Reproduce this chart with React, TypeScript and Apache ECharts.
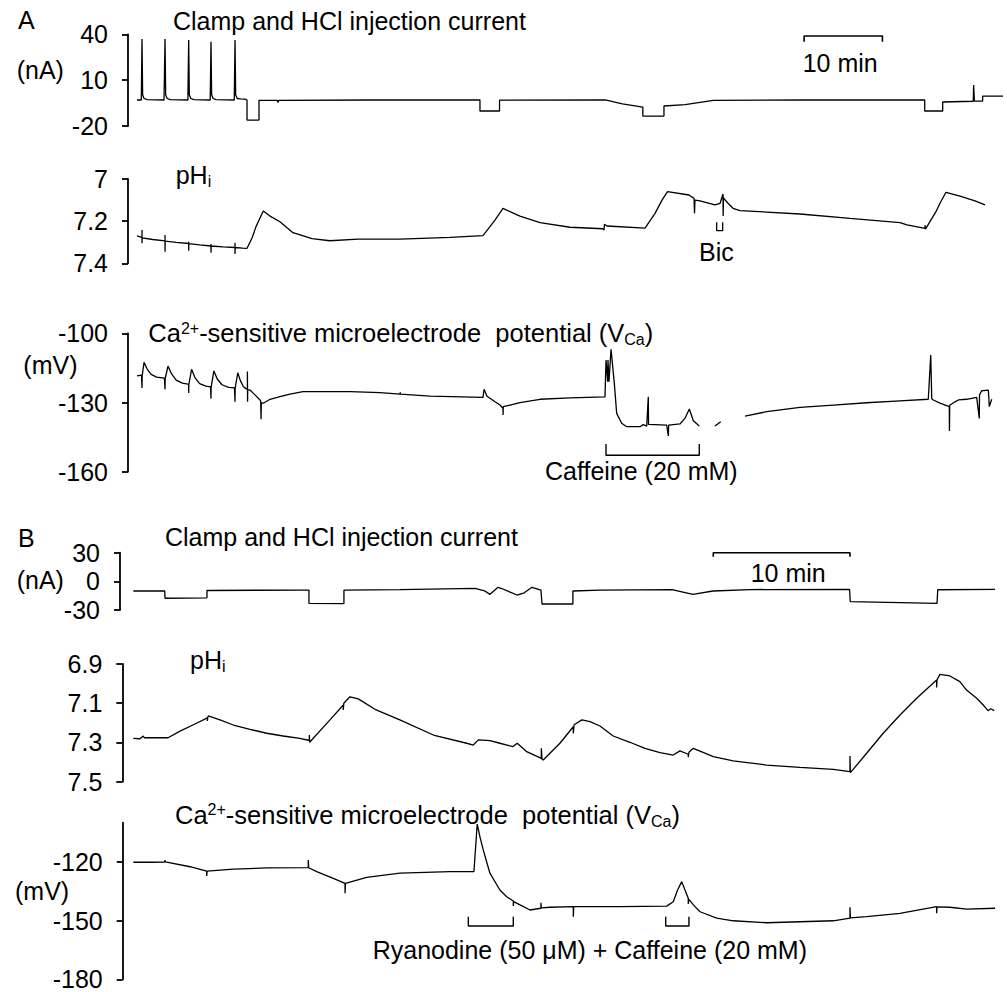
import React, { useEffect, useRef } from "react";
import * as echarts from "echarts";

const FONT = "'Liberation Sans', Arial, Helvetica, sans-serif";

// ---------- Panel A (time in minutes) ----------
const currentA = [
  [0, -3.0], [0.55, -3.0], [0.64, 36.9], [0.72, 0.5], [0.9, -2.0], [1.3, -2.8], [3.45, -3.0],
  [3.58, 36.9], [3.66, 0.5], [3.85, -2.0], [4.25, -2.8], [6.5, -3.0],
  [6.6, 36.3], [6.68, 0.5], [6.87, -2.0], [7.25, -2.8], [9.35, -3.0],
  [9.45, 35.2], [9.53, 0.5], [9.72, -2.0], [10.1, -2.8], [12.42, -3.0],
  [12.52, 36.3], [12.6, 0.5], [12.8, -2.0], [13.2, -2.2], [13.8, -2.4], [14.05, -3.0],
  [14.05, -16.1], [15.58, -16.1], [15.58, -3.2], [17.9, -3.2], [18.0, -4.6], [18.1, -3.2], [30, -3.0], [43.8, -3.0],
  [43.8, -10.2], [46.3, -10.2], [46.3, -3.1], [59.8, -2.9], [62.0, -5.5], [64.6, -7.6],
  [64.6, -13.5], [67.3, -13.5], [67.3, -6.9], [70.0, -6.0], [73.6, -3.2], [85.0, -3.0], [100.6, -3.0],
  [100.6, -10.2], [102.9, -10.2], [102.9, -4.3], [106.8, -3.8], [106.85, 6.8], [106.95, -3.7], [108.0, -3.7],
  [108.0, -0.4], [110.6, -0.4],
];
const scaleBarA = [[85.2, 35.2], [85.2, 38.9], [95.2, 38.9], [95.2, 35.2]];

const phA = [
  [0, 7.27], [0.5, 7.276], [0.64, 7.278], [0.64, 7.242], [0.64, 7.305], [0.66, 7.279],
  [2.0, 7.287], [3.58, 7.294], [3.58, 7.266], [3.58, 7.345], [3.6, 7.295],
  [5.0, 7.301], [6.6, 7.306], [6.6, 7.298], [6.6, 7.34], [6.62, 7.307],
  [8.0, 7.313], [9.45, 7.318], [9.45, 7.308], [9.45, 7.35], [9.47, 7.318],
  [11.0, 7.322], [12.52, 7.325], [12.52, 7.302], [12.52, 7.356], [12.54, 7.325],
  [13.5, 7.328], [14.05, 7.329], [14.69, 7.28], [15.2, 7.226], [16.13, 7.152],
  [16.99, 7.176], [18.26, 7.203], [19.92, 7.255], [22.35, 7.283], [24.65, 7.293], [28.22, 7.285],
  [33.59, 7.285], [39.97, 7.277], [44.19, 7.269], [45.72, 7.195], [46.74, 7.139],
  [47.64, 7.155], [48.91, 7.176], [51.47, 7.207], [55.3, 7.229], [59.51, 7.236], [59.64, 7.242], [59.7, 7.215], [60.03, 7.223], [64.88, 7.233],
  [66.16, 7.163], [67.05, 7.1], [67.75, 7.06], [70.5, 7.076], [71.14, 7.092], [71.2, 7.163], [71.26, 7.1], [71.9, 7.104],
  [73.82, 7.123], [74.46, 7.116], [74.84, 7.071], [74.86, 7.176], [74.9, 7.09], [75.48, 7.115], [76.12, 7.139], [77.01, 7.15],
  [84.67, 7.166], [91.06, 7.187], [97.45, 7.207], [98.34, 7.218], [100.64, 7.234], [100.66, 7.22], [100.7, 7.238],
  [102.04, 7.155], [102.55, 7.115], [103.32, 7.063], [105.11, 7.081], [107.02, 7.104], [108.3, 7.123],
];
const bicBracket = [[74.03, 7.205], [74.03, 7.245], [74.8, 7.245], [74.8, 7.205]];

const caA = [
  [0, -118.5], [0.57, -118.1], [0.64, -118.1], [0.64, -123.7], [0.66, -118.5], [0.9, -112.6], [1.3, -115.5], [1.8, -117.8], [2.5, -119.0], [3.5, -119.4],
  [3.58, -119.4], [3.58, -124.3], [3.6, -119.6], [3.96, -114.2], [4.4, -117.5], [5.0, -120.3], [5.8, -121.6], [6.5, -122.0],
  [6.6, -122.0], [6.6, -125.9], [6.62, -122.2], [6.97, -115.6], [7.4, -119.2], [8.0, -121.8], [8.8, -122.9], [9.4, -123.2],
  [9.45, -123.2], [9.45, -128.4], [9.47, -123.3], [9.82, -116.3], [10.25, -119.8], [10.85, -122.3], [11.7, -123.4], [12.45, -123.7],
  [12.52, -123.7], [12.52, -129.7], [12.54, -123.8], [12.87, -117.1], [13.2, -120.5], [13.6, -123.2], [13.95, -124.1],
  [14.1, -124.1], [14.1, -116.6], [14.12, -129.7], [14.14, -124.4], [14.43, -124.6], [15.07, -126.7], [15.71, -128.9], [15.8, -129.5], [15.84, -137.3], [15.88, -130.2], [16.13, -130.3],
  [16.99, -128.6], [18.26, -127.5], [19.54, -126.4], [21.2, -125.3], [27.2, -125.3], [31.03, -125.7], [33.6, -126.4], [33.62, -125.6], [33.65, -126.4], [37.42, -127.2],
  [44.19, -127.8], [44.32, -124.3], [44.7, -127.3], [45.72, -129.7], [46.36, -131.1], [46.74, -132.5], [46.75, -135.4], [46.78, -131.8], [47.64, -131.1], [48.91, -130.1], [51.47, -128.6], [55.3, -128.0], [59.77, -127.6],
  [59.9, -111.6], [60.11, -121.0], [60.15, -111.6], [60.28, -121.0], [60.54, -106.9], [60.96, -121.7], [61.26, -134.7], [61.9, -139.0], [62.54, -140.5], [64.24, -140.5], [64.66, -139.6], [65.1, -140.2], [65.3, -127.5], [65.33, -139.5],
  [67.65, -139.8], [67.86, -144.5], [67.9, -139.8], [69.35, -139.3], [69.99, -136.8], [70.54, -132.8], [71.05, -137.9], [71.81, -140.2],
  [72.8, "-"],
  [73.82, -140.2], [74.55, -138.3],
  [76.0, "-"],
  [77.65, -135.9], [80.42, -134.0], [84.67, -132.1], [88.93, -131.1], [93.19, -130.1], [97.45, -129.3], [101.06, -128.6], [101.37, -109.4], [101.5, -128.4], [101.7, -128.9],
  [102.55, -130.3], [103.74, -131.8], [103.76, -142.4], [103.8, -131.2], [104.47, -129.7], [104.9, -128.9], [105.96, -128.6], [107.24, -127.8], [107.57, -136.9], [107.6, -126.7],
  [107.88, -124.9], [108.73, -124.6], [108.85, -131.8], [109.16, -128.6],
];
const caffeineBracketA = [[59.9, -148], [59.9, -152.9], [71.81, -152.9], [71.81, -148]];

// ---------- Panel B ----------
const currentB = [
  [0, -10.1], [2.3, -10.1], [2.32, -17.7], [4.0, -17.5], [5.39, -17.2], [5.39, -9.6], [9, -9.3], [12.19, -9.1], [12.85, -9.1],
  [12.85, -23.0], [15.41, -23.3], [15.41, -9.1], [19.5, -8.6], [25.0, -7.3], [25.7, -10], [26.1, -13.6], [26.68, -6.2], [26.95, -7.5],
  [28.07, -14.3], [28.6, -12], [29.17, -6.2], [29.82, -9.1], [29.9, -23.7], [32.16, -23.7], [32.16, -10.1], [34.14, -9.1],
  [39.41, -8.6], [40.94, -13.6], [42.41, -10.1], [45.11, -8.6], [52.4, -8.3], [52.45, -21.3], [58.8, -23.0], [58.85, -8.8], [63.04, -8.3],
];
const scaleBarB = [[42.43, 25.8], [42.43, 30], [52.43, 30], [52.43, 25.8]];

const phB = [
  [0, 7.279], [0.49, 7.281], [0.73, 7.267], [0.8, 7.276], [2.54, 7.276], [3.42, 7.242], [4.51, 7.206], [5.42, 7.175], [5.42, 7.19], [5.45, 7.17], [5.49, 7.165],
  [6.34, 7.185], [7.32, 7.211], [8.54, 7.233], [9.76, 7.253], [10.97, 7.267], [12.19, 7.279], [12.88, 7.29], [12.88, 7.262], [12.9, 7.299], [12.93, 7.299],
  [14.39, 7.185], [15.36, 7.109], [15.36, 7.134], [15.4, 7.1], [15.85, 7.067],
  [16.46, 7.078], [17.68, 7.131], [19.5, 7.185], [21.95, 7.262], [24.39, 7.304], [24.87, 7.313], [25.24, 7.287], [26.09, 7.291], [26.82, 7.304],
  [27.78, 7.321], [28.09, 7.304], [28.78, 7.347], [29.85, 7.381], [29.85, 7.33], [29.9, 7.385], [29.99, 7.389],
  [31.21, 7.304], [32.19, 7.22], [32.19, 7.254], [32.25, 7.21], [32.82, 7.185],
  [33.41, 7.194], [34.14, 7.216], [35.11, 7.267], [36.33, 7.299], [37.43, 7.33], [38.53, 7.352], [39.5, 7.364], [39.99, 7.343], [40.6, 7.36], [40.6, 7.375], [40.65, 7.35],
  [40.97, 7.33], [42.43, 7.372], [43.89, 7.394], [46.33, 7.415], [48.77, 7.427], [51.21, 7.437], [52.43, 7.449], [52.43, 7.369], [52.46, 7.454],
  [53.65, 7.355], [54.86, 7.253], [56.09, 7.16], [57.31, 7.075], [58.77, 6.982], [58.77, 7.02], [58.8, 6.98], [59.01, 6.953],
  [59.74, 6.961], [60.47, 6.99], [60.96, 7.033], [61.7, 7.075], [62.18, 7.109], [62.53, 7.138], [62.72, 7.128], [62.99, 7.138],
];

const caB = [
  [0, -120.2], [1.22, -120.2], [2.3, -120.1], [2.32, -119.1], [2.35, -120.0], [4.15, -122.5], [5.37, -124.7], [5.37, -127.2], [5.4, -124.7],
  [7.32, -123.7], [9.76, -123.1], [12.8, -123.0], [12.8, -119.1], [12.83, -123.0], [13.42, -125.0], [14.63, -128.4], [15.49, -131.0], [15.49, -136.1], [15.52, -131.0],
  [17.07, -127.9], [19.51, -125.8], [23.17, -125.0], [24.92, -125.0],
  [25.16, -100.7], [25.36, -107.2], [25.6, -113.9], [26.09, -125.8], [26.82, -134.4], [27.32, -137.8], [27.8, -140.0], [27.8, -142.5], [27.83, -140.3],
  [28.29, -142.0], [29.02, -144.6], [29.82, -143.7], [29.82, -140.9], [29.85, -143.5], [30.48, -143.2], [32.19, -142.9], [32.19, -148.0], [32.22, -142.9],
  [35.6, -142.9], [39.02, -142.6], [39.5, -140.4], [39.82, -134.4], [40.12, -130.1], [40.36, -134.4], [40.6, -138.6], [40.6, -141.5], [40.63, -139],
  [40.97, -142.0], [41.46, -145.5], [42.68, -148.8], [43.89, -150.1], [46.33, -151.1], [51.21, -150.1], [52.43, -148.8], [52.43, -143.2], [52.46, -148.6],
  [53.65, -148.0], [56.09, -146.3], [58.77, -142.9], [58.77, -146.3], [58.8, -143.0], [59.74, -143.2], [60.96, -144.1], [63.04, -143.7],
];
const ryanodineBracket1 = [[24.51, -148], [24.51, -152.8], [27.8, -152.8], [27.8, -148]];
const ryanodineBracket2 = [[38.95, -148], [38.95, -152.8], [40.65, -152.8], [40.65, -148]];

// ---------- tick labels ----------
const currentATicks = [-20, 10, 40];
const phATicks = [7, 7.2, 7.4];
const caATicks = [-160, -130, -100];
const currentBTicks = [-30, 0, 30];
const phBTicks = [6.9, 7.1, 7.3, 7.5];
const caBTicks = [-180, -150, -120];

const GRIDS = [
  { left: 137, top: 34.3, width: 866, height: 91.7 },
  { left: 137, top: 179, width: 866, height: 84.3 },
  { left: 137, top: 333.3, width: 866, height: 138.4 },
  { left: 133.3, top: 552.7, width: 861.7, height: 57.3 },
  { left: 133.3, top: 664, width: 861.7, height: 117.7 },
  { left: 133.3, top: 822.7, width: 861.7, height: 156.6 },
];
const X_MAX = [110.6, 110.6, 110.6, 63.04, 63.04, 63.04];

function yAx(gridIndex: number, min: number, max: number, ticks: number[], offset: number, inverse = false) {
  return {
    type: "value",
    gridIndex,
    min,
    max,
    inverse,
    offset,
    position: "left",
    axisLine: { show: true, onZero: false, lineStyle: { color: "#000", width: 1.8 } },
    axisTick: { show: true, inside: false, length: 6, customValues: ticks, lineStyle: { color: "#000", width: 1.8 } },
    axisLabel: {
      show: true,
      customValues: ticks,
      margin: 20,
      color: "#000",
      fontSize: 25,
      fontFamily: FONT,
      formatter: (v: number) => String(v),
    },
    splitLine: { show: false },
  };
}

function line(data: any[], idx: number, width = 1.3) {
  return {
    type: "line",
    xAxisIndex: idx,
    yAxisIndex: idx,
    data,
    symbol: "none",
    showSymbol: false,
    clip: false,
    silent: true,
    connectNulls: false,
    lineStyle: { color: "#000", width },
  };
}

const base = { fill: "#000", fontFamily: FONT, fontSize: 25, align: "left", verticalAlign: "top", textAlign: "left", textVerticalAlign: "top" };
const RICH = {
  n: { fontSize: 25, fontFamily: FONT, fill: "#000", verticalAlign: "top" },
  sup: { fontSize: 15, fontFamily: FONT, fill: "#000", verticalAlign: "top" },
  sub: { fontSize: 16, fontFamily: FONT, fill: "#000", verticalAlign: "top", padding: [11, 0, 0, 0] },
};
const RICH_CA = {
  n: { fontSize: 25.5, fontFamily: FONT, fill: "#000", verticalAlign: "top" },
  sup: { fontSize: 16, fontFamily: FONT, fill: "#000", verticalAlign: "top" },
  sub: { fontSize: 16, fontFamily: FONT, fill: "#000", verticalAlign: "top", padding: [11.5, 0, 0, 0] },
};
function txt(x: number, y: number, text: string) {
  return { type: "text", x, y, silent: true, style: { ...base, text } };
}
function rtxt(x: number, y: number, text: string, rich: any = RICH) {
  return { type: "text", x, y, silent: true, style: { ...base, text, rich } };
}

export default function App() {
  const ref = useRef<HTMLDivElement>(null);
  useEffect(() => {
    if (!ref.current) return;
    const chart = echarts.init(ref.current, null, { renderer: "svg" });
    const caTitle = "{n|Ca}{sup|2+}{n|-sensitive microelectrode  potential (V}{sub|Ca}{n|)}";
    chart.setOption({
      animation: false,
      backgroundColor: "#fff",
      grid: GRIDS.map((g) => ({ ...g, outerBoundsMode: "none", containLabel: false })),
      xAxis: GRIDS.map((_, i) => ({ type: "value", gridIndex: i, min: 0, max: X_MAX[i], show: false })),
      yAxis: [
        yAx(0, -20, 40, currentATicks, 9),
        yAx(1, 7, 7.4, phATicks, 9, true),
        yAx(2, -160, -100, caATicks, 9),
        yAx(3, -30, 30, currentBTicks, 13.3),
        yAx(4, 6.9, 7.5, phBTicks, 11, true),
        yAx(5, -180, -100, caBTicks, 10.6),
      ],
      series: [
        line(currentA, 0),
        line(scaleBarA, 0, 1.6),
        line(phA, 1),
        line(bicBracket, 1, 1.3),
        line(caA, 2),
        line(caffeineBracketA, 2, 1.4),
        line(currentB, 3),
        line(scaleBarB, 3, 1.6),
        line(phB, 4),
        line(caB, 5),
        line(ryanodineBracket1, 5, 1.4),
        line(ryanodineBracket2, 5, 1.4),
      ],
      graphic: [
        txt(18, 7.1, "A"),
        txt(173, 8.8, "Clamp and HCl injection current"),
        txt(16.7, 57, "(nA)"),
        txt(802.7, 50.5, "10 min"),
        rtxt(175.7, 162.1, "{n|pH}{sub|i}"),
        txt(699, 239.5, "Bic"),
        rtxt(148.3, 320.2, caTitle, RICH_CA),
        txt(23.3, 352.8, "(mV)"),
        txt(545, 458.8, "Caffeine (20 mM)"),
        txt(18, 525.5, "B"),
        txt(165, 524.8, "Clamp and HCl injection current"),
        txt(16.7, 567, "(nA)"),
        txt(750.7, 560.5, "10 min"),
        rtxt(190, 647.1, "{n|pH}{sub|i}"),
        rtxt(175, 801.8, caTitle, RICH_CA),
        txt(15, 878.6, "(mV)"),
        txt(372.7, 937.1, "Ryanodine (50 \u03bcM) + Caffeine (20 mM)"),
      ],
    });
    return () => chart.dispose();
  }, []);
  return (
    <div
      ref={ref}
      style={{ position: "absolute", left: 0, top: 0, width: 1007, height: 992, background: "#fff" }}
    />
  );
}
